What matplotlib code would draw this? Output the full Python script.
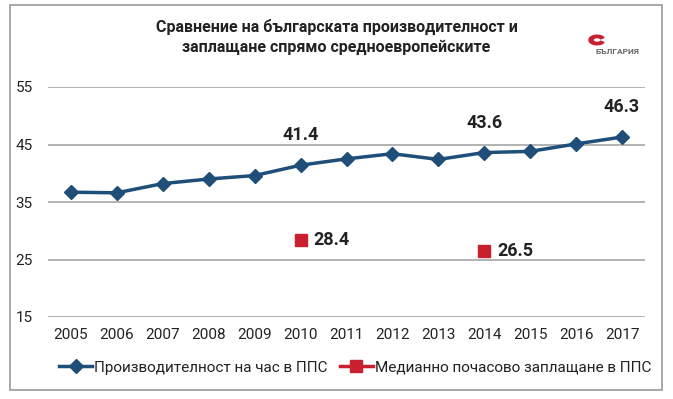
import numpy as np
import matplotlib
matplotlib.use('Agg')
import matplotlib.pyplot as plt
from matplotlib.patches import Rectangle, Wedge
from matplotlib.lines import Line2D

plt.rcParams['font.family'] = ['Roboto', 'DejaVu Sans']

years = ['2005', '2006', '2007', '2008', '2009', '2010', '2011',
         '2012', '2013', '2014', '2015', '2016', '2017']
productivity = [36.7, 36.6, 38.2, 39.0, 39.6, 41.4, 42.5, 43.4, 42.4, 43.6, 43.8, 45.1, 46.3]
wage_years = ['2010', '2014']
wage = [28.4, 26.5]
prod_labels = {'2010': 41.4, '2014': 43.6, '2017': 46.3}
series_names = ['Производителност на час в ППС', 'Медианно почасово заплащане в ППС']

blue = '#1f4e79'
red = '#c8202f'
txt = '#222222'

fig = plt.figure(figsize=(6.73, 3.99), dpi=100)
ax = fig.add_axes([48 / 673, 1 - 317 / 399, 597 / 673, 230 / 399])

x = np.arange(len(years))
ax.plot(x, productivity, color=blue, lw=2.5, marker='D', ms=7)
wx = [years.index(y) for y in wage_years]
ax.plot(wx, wage, ls='none', marker='s', color=red, ms=9)

for yr, v in prod_labels.items():
    ax.text(years.index(yr), v + 5.2, f'{v:.1f}', ha='center', va='center',
            fontsize=13, fontweight='bold', color=txt)
for xi, v in zip(wx, wage):
    ax.text(xi + 0.28, v, f'{v:.1f}', ha='left', va='center',
            fontsize=13, fontweight='bold', color=txt)

ax.set_xlim(-0.5, 12.5)
ax.set_ylim(15, 55)
ax.set_yticks([15, 25, 35, 45, 55])
ax.set_xticks(x)
ax.set_xticklabels(years)
ax.grid(axis='y', color='#a6a6a6', lw=1.2)
ax.set_axisbelow(True)
for s in ax.spines.values():
    s.set_visible(False)
ax.tick_params(length=0, labelsize=11, colors=txt)
ax.tick_params(axis='y', pad=11)
ax.tick_params(axis='x', pad=8)

handles = [Line2D([], [], color=blue, lw=2.5, marker='D', ms=7),
           Line2D([], [], color=red, lw=2.5, marker='s', ms=8)]
ax.legend(handles, series_names, loc='upper left', bbox_to_anchor=(-0.005, -0.13), ncol=2,
          frameon=False, fontsize=11, handlelength=2.2, handletextpad=0.1, columnspacing=0.8,
          labelcolor=txt)

fig.text(0.5, 1 - 37 / 399, 'Сравнение на българската производителност и\nзаплащане спрямо средноевропейските',
         ha='center', va='center', fontsize=11.5, fontweight='bold', color=txt, linespacing=1.4)

# logo
fig.patches.append(Wedge((597 / 673, 1 - 40 / 399), 0.012, 30, 330, width=0.006,
                         transform=fig.transFigure, color=red))
fig.text(596 / 673, 1 - 54 / 399, 'БЪЛГАРИЯ', fontsize=6, color='#666666', fontweight='bold')

fig.patches.append(Rectangle((10 / 673, 1 - 390 / 399), 652 / 673, 385 / 399,
                             transform=fig.transFigure, fill=False, ec='#9a9a9a', lw=1.2))

fig.savefig('out.png', dpi=100)
